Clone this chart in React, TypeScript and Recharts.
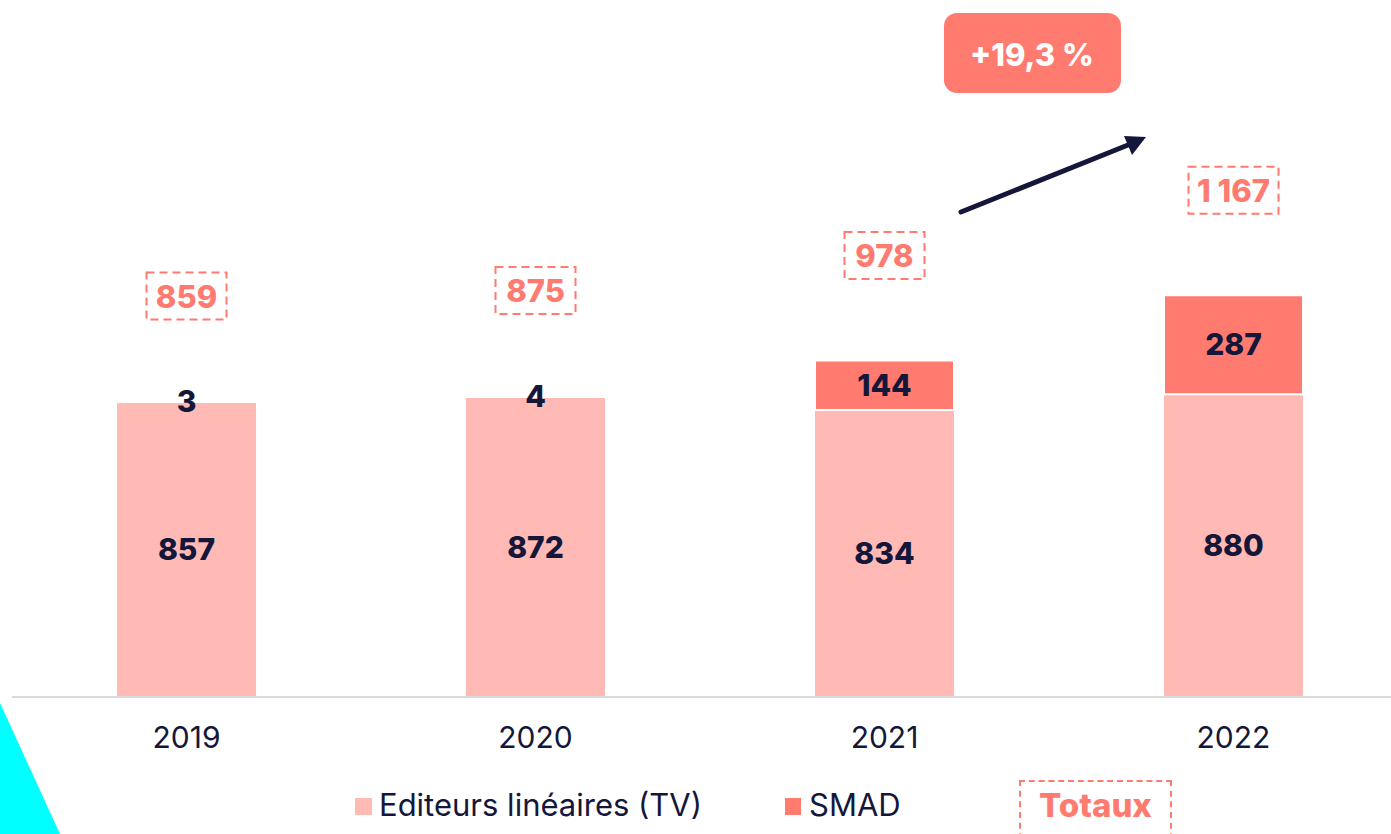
import { BarChart, Bar, XAxis, YAxis, LabelList } from "recharts";

const years = ["2019", "2020", "2021", "2022"];
const lineaires = [857, 872, 834, 880];
const smad = [3, 4, 144, 287];
const totals = [859, 875, 978, 1167];
const growthLabel = "+19,3 %";
const legendNames = ["Editeurs linéaires (TV)", "SMAD", "Totaux"];

const PINK = "#FFBAB5";
const CORAL = "#FF7B70";
const NAVY = "#15173A";
const FONT = "Inter, 'Noto Sans', sans-serif";

const data = years.map((year, i) => ({
  year,
  lineaires: lineaires[i],
  smad: smad[i],
  total: totals[i],
}));

const fmt = (v: number) => v.toLocaleString("fr-FR").replace(/\s/g, " ");

function TotalLabel(props: any) {
  const { x, y, width, value } = props;
  const text = fmt(Number(value));
  const cx = x + width / 2;
  const cy = y - 105;
  const w = 65 + 5 * text.length;
  const h = 47;
  return (
    <g>
      <rect
        x={cx - w / 2}
        y={cy - h / 2}
        width={w}
        height={h}
        fill="none"
        stroke={CORAL}
        strokeWidth={2}
        strokeDasharray="8 5"
      />
      <text
        x={cx}
        y={cy}
        textAnchor="middle"
        dominantBaseline="central"
        fill={CORAL}
        fontSize={31}
        fontWeight={800}
        fontFamily={FONT}
      >
        {text}
      </text>
    </g>
  );
}

const valueLabel = {
  fill: NAVY,
  fontSize: 30,
  fontWeight: 800,
  fontFamily: FONT,
};

export default function App() {
  return (
    <div
      style={{
        position: "absolute",
        left: 0,
        top: 0,
        width: 1391,
        height: 834,
        overflow: "hidden",
        background: "#fff",
        fontFamily: FONT,
      }}
    >
      <svg
        width={1391}
        height={834}
        style={{ position: "absolute", left: 0, top: 0 }}
      >
        <polygon points="0,703 60,834 0,834" fill="#00FFFF" />
      </svg>

      <div style={{ position: "absolute", left: 0, top: 0 }}>
        <BarChart
          width={1420}
          height={834}
          data={data}
          margin={{ top: 284, right: 12, left: 12, bottom: 77 }}
          barSize={139}
        >
          <XAxis
            dataKey="year"
            axisLine={{ stroke: "#D9D9D9", strokeWidth: 2 }}
            tickLine={false}
            tickSize={0}
            tickMargin={30}
            height={60}
            tick={{ fill: NAVY, fontSize: 30, fontFamily: FONT }}
          />
          <YAxis hide domain={[0, 1200]} />
          <Bar dataKey="lineaires" stackId="a" fill={PINK} isAnimationActive={false}>
            <LabelList dataKey="lineaires" position="center" style={valueLabel} />
          </Bar>
          <Bar
            dataKey="smad"
            stackId="a"
            fill={CORAL}
            stroke="#fff"
            strokeWidth={2}
            isAnimationActive={false}
          >
            <LabelList dataKey="smad" position="center" style={valueLabel} />
            <LabelList dataKey="total" content={TotalLabel} />
          </Bar>
        </BarChart>
      </div>

      {/* growth annotation */}
      <svg
        width={1391}
        height={834}
        style={{ position: "absolute", left: 0, top: 0, pointerEvents: "none" }}
      >
        <rect x={944} y={13} width={177} height={80} rx={13} fill={CORAL} />
        <text
          x={1032}
          y={54}
          textAnchor="middle"
          dominantBaseline="central"
          fill="#fff"
          fontSize={31}
          fontWeight={800}
          fontFamily={FONT}
        >
          {growthLabel}
        </text>
        <line
          x1={961}
          y1={212}
          x2={1133}
          y2={143}
          stroke={NAVY}
          strokeWidth={5}
          strokeLinecap="round"
        />
        <polygon points="1146,137 1124,136 1132,155" fill={NAVY} />
      </svg>

      {/* legend */}
      <div
        style={{
          position: "absolute",
          top: 780,
          left: 0,
          width: 1391,
          height: 60,
          color: NAVY,
          fontSize: 31,
        }}
      >
        <div style={{ position: "absolute", left: 355, top: 18, width: 17, height: 17, background: PINK }} />
        <div style={{ position: "absolute", left: 379, top: 7, lineHeight: "36px" }}>
          {legendNames[0]}
        </div>
        <div style={{ position: "absolute", left: 785, top: 18, width: 16, height: 17, background: CORAL }} />
        <div style={{ position: "absolute", left: 809, top: 7, lineHeight: "36px" }}>
          {legendNames[1]}
        </div>
        <div
          style={{
            position: "absolute",
            left: 1019,
            top: 0,
            width: 153,
            height: 70,
            border: `2px dashed ${CORAL}`,
            boxSizing: "border-box",
          }}
        />
        <div
          style={{
            position: "absolute",
            left: 1019,
            width: 153,
            top: 7,
            lineHeight: "36px",
            textAlign: "center",
            color: CORAL,
            fontWeight: 800,
            fontSize: 33,
          }}
        >
          {legendNames[2]}
        </div>
      </div>
    </div>
  );
}
